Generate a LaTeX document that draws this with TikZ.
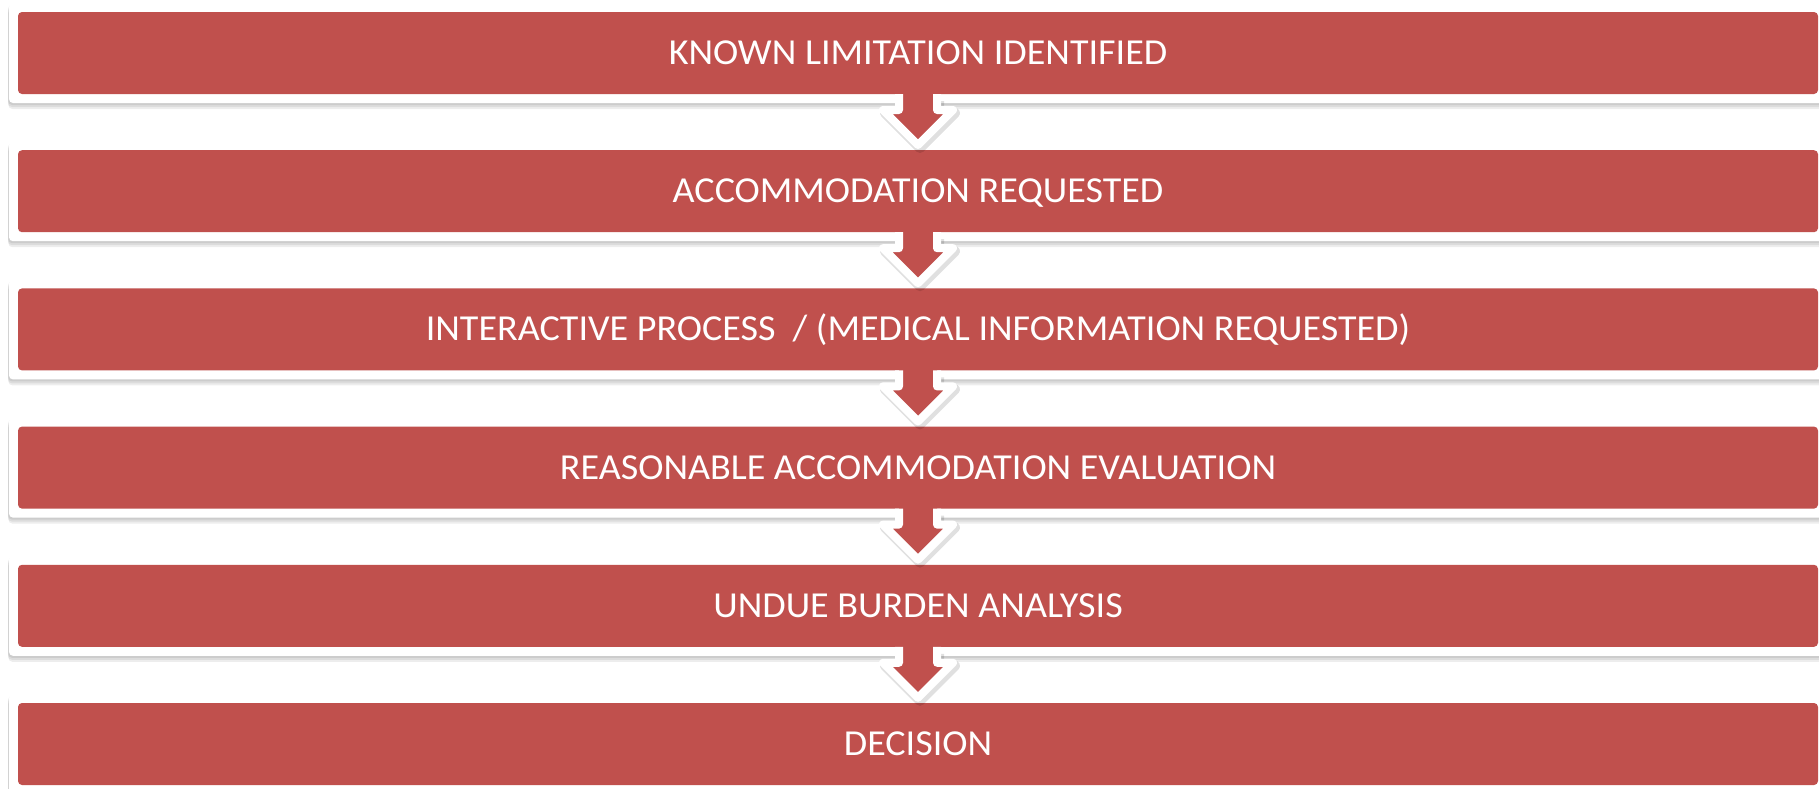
\documentclass[tikz,border=0pt]{standalone}
\usepackage{fontspec}
\setmainfont{Carlito}
\usetikzlibrary{calc}
\definecolor{boxred}{HTML}{C0504D}
\newcommand\steplabel[1]{\scalebox{1.04}[1]{#1}}
\newcommand\flowarrow[1]{%
  \begin{scope}[shift={(#1.center)}]
    \draw[black, opacity=0.12, line width=5pt, line join=round,
      transform canvas={xshift=1pt,yshift=-1.5pt}]
      (-19,45) -- (-19,57) -- (-35,57) -- (0,92) -- (35,57) -- (19,57) -- (19,45);
    \fill[boxred] (-19,39) -- (-19,57) -- (-35,57) -- (0,92) -- (35,57) -- (19,57) -- (19,39) -- cycle;
    \draw[white, line width=4pt, line join=round]
      (-19,41) -- (-19,57) -- (-35,57) -- (0,92) -- (35,57) -- (19,57) -- (19,41);
  \end{scope}}
\begin{document}
\begin{tikzpicture}[x=0.5pt,y=-0.5pt,
  stepbox/.style={fill=white, rounded corners=2pt, minimum width=909pt,
    minimum height=50pt, inner sep=0pt, text=white,
    font=\fontsize{18.3pt}{20pt}\selectfont, text height=11.57pt, text depth=0pt,
    preaction={fill=black, fill opacity=0.07, transform canvas={xshift=-0.5pt,yshift=-1pt}},
    preaction={fill=black, fill opacity=0.07, transform canvas={xshift=-0.5pt,yshift=-2pt}},
    preaction={fill=black, fill opacity=0.07, transform canvas={xshift=-0.3pt,yshift=-3pt}},
    path picture={\fill[boxred]
      ([shift={(4.5pt,-4.5pt)}]path picture bounding box.north west) rectangle
      ([shift={(-4.5pt,4.5pt)}]path picture bounding box.south east);}}]
  \useasboundingbox (0,0) rectangle (1819,788);
  \node[stepbox] (b1) at (918,53) {\steplabel{KNOWN LIMITATION IDENTIFIED}};
  \node[stepbox] (b2) at (918,191.2) {\steplabel{ACCOMMODATION REQUESTED}};
  \node[stepbox] (b3) at (918,329.4) {\steplabel{INTERACTIVE PROCESS~~/ (MEDICAL INFORMATION REQUESTED)}};
  \node[stepbox] (b4) at (918,467.6) {\steplabel{REASONABLE ACCOMMODATION EVALUATION}};
  \node[stepbox] (b5) at (918,605.8) {\steplabel{UNDUE BURDEN ANALYSIS}};
  \node[stepbox] (b6) at (918,744) {\steplabel{DECISION}};
  \flowarrow{b1}
  \flowarrow{b2}
  \flowarrow{b3}
  \flowarrow{b4}
  \flowarrow{b5}
\end{tikzpicture}
\end{document}
